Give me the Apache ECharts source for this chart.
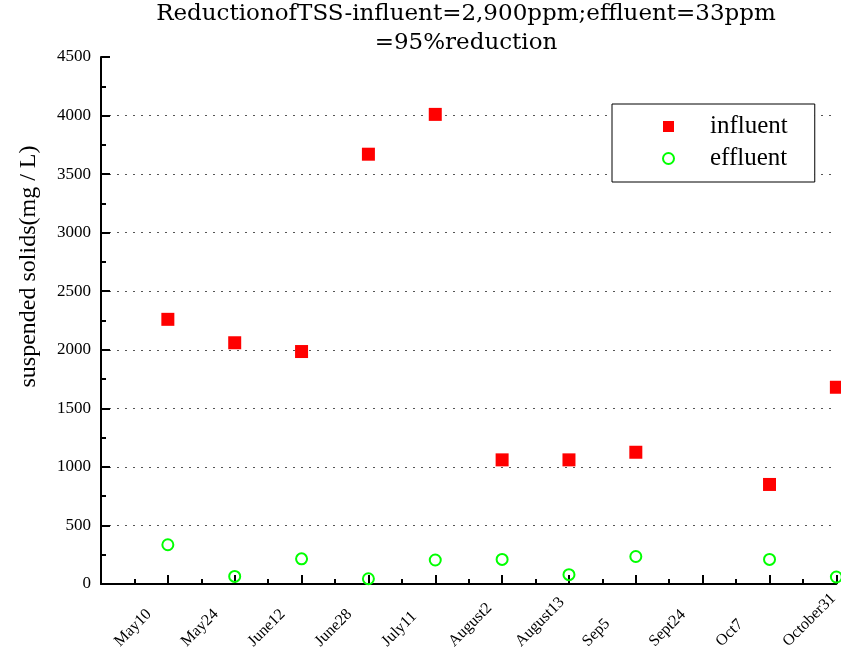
<!DOCTYPE html>
<html>
<head>
<meta charset="utf-8">
<script src="https://cdn.jsdelivr.net/npm/echarts@6/dist/echarts.min.js"></script>
<style>
html, body { margin: 0; padding: 0; background: #fff; }
#chart { width: 841px; height: 652px; }
</style>
</head>
<body>
<div id="chart"></div>
<script>
// sampling dates (x positions 1..11)
const dates = ['May10', 'May24', 'June12', 'June28', 'July11', 'August2', 'August13', 'Sep5', 'Sept24', 'Oct7', 'October31']
// suspended solids, mg/L (null = no sample)
const influent = [2260, 2060, 1985, 3670, 4010, 1060, 1060, 1125, null, 850, 1680]
const effluent = [335, 65, 215, 45, 205, 210, 80, 235, null, 210, 60]

const serif = 'Liberation Serif'
const wideSerif = 'DejaVu Serif'

const toPoints = arr => arr
  .map((v, i) => [i + 1, v])
  .filter(p => p[1] !== null)

const chart = echarts.init(document.getElementById('chart'))

const option = {
  animation: false,
  backgroundColor: '#fff',
  title: {
    text: 'ReductionofTSS-influent=2,900ppm;effluent=33ppm\n=95%reduction',
    left: 466,
    top: 0,
    textAlign: 'center',
    padding: 0,
    textStyle: {
      fontFamily: wideSerif,
      fontSize: 23,
      fontWeight: 'normal',
      color: '#000',
      lineHeight: 29,
    },
  },
  legend: {
    orient: 'vertical',
    left: 612,
    top: 104,
    padding: [10, 27, 11, 50],
    itemWidth: 11,
    itemHeight: 11,
    itemGap: 7,
    backgroundColor: '#fff',
    borderColor: '#000',
    borderWidth: 1,
    borderRadius: 0,
    textStyle: {
      fontFamily: serif,
      fontSize: 25,
      color: '#000',
      lineHeight: 24,
      padding: [0, 0, 0, 31],
    },
    data: ['influent', 'effluent'],
  },
  grid: {
    left: 101,
    right: 2,
    top: 57,
    bottom: 68,
  },
  xAxis: {
    type: 'value',
    min: 0,
    max: 11,
    interval: 1,
    axisLine: {
      show: true,
      lineStyle: {color: '#000', width: 2},
    },
    axisTick: {
      show: true,
      inside: true,
      length: 9,
      lineStyle: {color: '#000', width: 2},
    },
    minorTick: {
      show: true,
      splitNumber: 2,
      length: 5,
      lineStyle: {color: '#000', width: 2},
    },
    splitLine: {show: false},
    axisLabel: {
      rotate: 45,
      margin: 9,
      color: '#000',
      formatter: v => (dates[v - 1] ? '{d|' + dates[v - 1] + '}' : ''),
      rich: {
        d: {
          align: 'left',
          width: 72,
          fontFamily: serif,
          fontSize: 16,
          color: '#000',
        },
      },
    },
  },
  yAxis: {
    type: 'value',
    min: 0,
    max: 4500,
    interval: 500,
    name: 'suspended solids(mg / L)',
    nameLocation: 'middle',
    nameGap: 60,
    nameTextStyle: {
      fontFamily: serif,
      fontSize: 24,
      color: '#000',
      padding: [0, 0, 0, 108],
    },
    axisLine: {
      show: true,
      lineStyle: {color: '#000', width: 2},
    },
    axisTick: {
      show: true,
      inside: true,
      length: 9,
      lineStyle: {color: '#000', width: 2},
    },
    minorTick: {
      show: true,
      splitNumber: 2,
      length: 5,
      lineStyle: {color: '#000', width: 2},
    },
    axisLabel: {
      margin: 10,
      fontFamily: serif,
      fontSize: 17,
      color: '#000',
      formatter: v => String(v),
    },
    splitLine: {
      show: true,
      showMinLine: false,
      showMaxLine: false,
      lineStyle: {color: '#555', width: 1, type: [2, 6]},
    },
  },
  series: [
    {
      name: 'influent',
      type: 'scatter',
      symbol: 'rect',
      symbolSize: 13,
      itemStyle: {color: '#ff0000', opacity: 1},
      data: toPoints(influent),
    },
    {
      name: 'effluent',
      type: 'scatter',
      symbol: 'circle',
      symbolSize: 11,
      itemStyle: {color: 'transparent', borderColor: '#00ff00', borderWidth: 2, opacity: 1},
      data: toPoints(effluent),
    },
  ],
}

chart.setOption(option)
</script>
</body>
</html>
